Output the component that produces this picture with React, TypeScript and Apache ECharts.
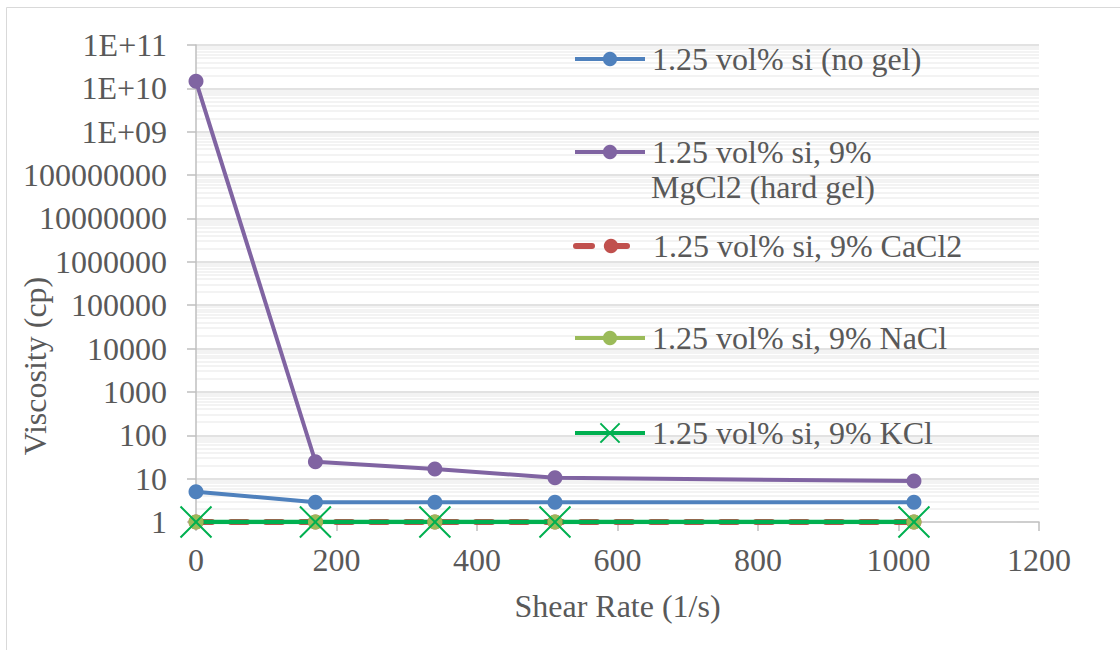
import React, { useEffect, useRef } from "react";
import * as echarts from "echarts";

const shearRates = [0, 170, 340, 511, 1022];
const noGel = [5, 2.85, 2.85, 2.85, 2.85];
const mgcl2 = [1.45e10, 24.5, 16.6, 10.5, 8.8];
const cacl2 = [1, 1, 1, 1, 1];
const nacl = [1, 1, 1, 1, 1];
const kcl = [1, 1, 1, 1, 1];

const seriesNames = [
  "1.25 vol% si (no gel)",
  "1.25 vol% si, 9% MgCl2 (hard gel)",
  "1.25 vol% si, 9% CaCl2",
  "1.25 vol% si, 9% NaCl",
  "1.25 vol% si, 9% KCl",
];
const yTickLabels = [
  "1", "10", "100", "1000", "10000", "100000", "1000000", "10000000",
  "100000000", "1E+09", "1E+10", "1E+11",
];
const yTickValues = [1, 1e1, 1e2, 1e3, 1e4, 1e5, 1e6, 1e7, 1e8, 1e9, 1e10, 1e11];
const xTitle = "Shear Rate (1/s)";
const yTitle = "Viscosity (cp)";

const FONT = '"Times New Roman", "Liberation Serif", serif';
const TXT = "#595959";
const FS = 32;

// minor grid values 2..9 x 10^k
const minorGrid: number[] = [];
for (let k = 0; k < 11; k++) {
  for (let m = 2; m <= 9; m++) minorGrid.push(m * Math.pow(10, k));
}

const pairs = (ys: number[]) => shearRates.map((x, i) => [x, ys[i]]);

export default function App() {
  const ref = useRef<HTMLDivElement>(null);
  useEffect(() => {
    document.body.style.margin = "0";
    const chart = echarts.init(ref.current!, null, { renderer: "svg" });
    const legendTops = [43, 136, 230, 322, 417];
    const legendIconH = [18, 18, 18, 18, 24];
    const legendLineW = [4, 4, 6, 4, 4];
    const legends = seriesNames.map((n, i) => ({
      show: true,
      data: [n],
      left: 573,
      top: legendTops[i],
      padding: 0,
      itemWidth: 70,
      itemHeight: legendIconH[i],
      itemGap: 0,
      selectedMode: false,
      z: 10,
      lineStyle: { width: legendLineW[i] },
      formatter: (name: string) => (i === 1 ? "1.25 vol% si, 9%" : name),
      textStyle: {
        fontFamily: FONT,
        fontSize: FS,
        color: TXT,
        lineHeight: 30,
        padding: [0, 0, 0, 2],
      },
    }));
    const gridMark = (vals: number[], color: string) => ({
      silent: true,
      z: 0,
      symbol: ["none", "none"],
      label: { show: false },
      lineStyle: { color, width: 1.5, type: "solid" },
      emphasis: { disabled: true },
      data: vals.map((v) => ({ yAxis: v })),
    });
    const option: any = {
      animation: false,
      backgroundColor: "#ffffff",
      textStyle: { fontFamily: FONT },
      grid: { left: 196, right: 81, top: 45, bottom: 128, containLabel: false },
      legend: legends,
      graphic: [
        {
          type: "rect",
          shape: { x: 6.5, y: 7.5, width: 1300, height: 800 },
          style: { fill: "none", stroke: "#D9D9D9", lineWidth: 1 },
          silent: true,
          z: -10,
        },
        {
          type: "text",
          left: 651,
          top: 171,
          z: 10,
          style: {
            text: "MgCl2 (hard gel)",
            fontFamily: FONT,
            fontSize: FS,
            fill: TXT,
          },
        },
        {
          type: "text",
          x: 35,
          y: 366,
          rotation: Math.PI / 2,
          style: {
            text: yTitle,
            fontFamily: FONT,
            fontSize: FS,
            fill: TXT,
            align: "center",
            verticalAlign: "middle",
          },
        },
      ],
      xAxis: {
        type: "value",
        min: 0,
        max: 1200,
        interval: 200,
        name: xTitle,
        nameLocation: "middle",
        nameGap: 68,
        nameTextStyle: { fontFamily: FONT, fontSize: FS, color: TXT },
        axisLine: { show: true, lineStyle: { color: "#BFBFBF", width: 1.5 } },
        axisTick: { show: true, length: 9, lineStyle: { color: "#BFBFBF", width: 1.5 } },
        axisLabel: {
          fontFamily: FONT,
          fontSize: FS,
          color: TXT,
          margin: 22,
          formatter: (v: number) => String(v),
        },
        splitLine: { show: false },
      },
      yAxis: {
        type: "log",
        logBase: 10,
        min: 1,
        max: 1e11,
        interval: 1,
        splitNumber: 11,
        axisLine: { show: true, lineStyle: { color: "#BFBFBF", width: 1.5 } },
        axisTick: {
          show: true,
          length: 9,
          lineStyle: { color: "#BFBFBF", width: 1.5 },
        },
        axisLabel: {
          fontFamily: FONT,
          fontSize: FS,
          color: TXT,
          margin: 29,
          hideOverlap: false,
          showMinLabel: true,
          showMaxLabel: true,
          formatter: (v: number) => {
            const e = Math.round(Math.log10(v));
            return yTickLabels[e] ?? "";
          },
        },
        splitLine: { show: false },
      },
      series: [
        {
          type: "line",
          name: "__minor",
          data: [],
          silent: true,
          z: 0,
          markLine: gridMark(minorGrid, "#EFEFEF"),
        },
        {
          type: "line",
          name: "__major",
          data: [],
          silent: true,
          z: 0,
          markLine: gridMark(yTickValues.slice(1), "#D9D9D9"),
        },
        {
          type: "line",
          name: seriesNames[0],
          data: pairs(noGel),
          z: 3,
          symbol: "circle",
          symbolSize: 15,
          color: "#4F81BD",
          lineStyle: { color: "#4F81BD", width: 4 },
          itemStyle: { color: "#4F81BD" },
        },
        {
          type: "line",
          name: seriesNames[1],
          data: pairs(mgcl2),
          z: 3,
          symbol: "circle",
          symbolSize: 15,
          color: "#8064A2",
          lineStyle: { color: "#8064A2", width: 4 },
          itemStyle: { color: "#8064A2" },
        },
        {
          type: "line",
          name: seriesNames[2],
          data: pairs(cacl2),
          z: 3,
          symbol: "circle",
          symbolSize: 15,
          color: "#C0504D",
          lineStyle: { color: "#C0504D", width: 6, type: [16, 19], cap: "round" },
          itemStyle: { color: "#C0504D" },
        },
        {
          type: "line",
          name: seriesNames[3],
          data: pairs(nacl),
          z: 3,
          symbol: "circle",
          symbolSize: 15,
          color: "#9BBB59",
          lineStyle: { color: "#9BBB59", width: 4 },
          itemStyle: { color: "#9BBB59" },
        },
        {
          type: "line",
          name: seriesNames[4],
          data: pairs(kcl),
          z: 3,
          symbol: "path://M0,0L10,10M10,0L0,10",
          symbolSize: 31,
          color: "#00B050",
          lineStyle: { color: "#00B050", width: 4.5 },
          itemStyle: { color: "#00B050", borderColor: "#00B050", borderWidth: 2 },
        },
      ],
    };
    chart.setOption(option);
    return () => chart.dispose();
  }, []);
  return <div ref={ref} style={{ width: 1120, height: 650 }} />;
}
